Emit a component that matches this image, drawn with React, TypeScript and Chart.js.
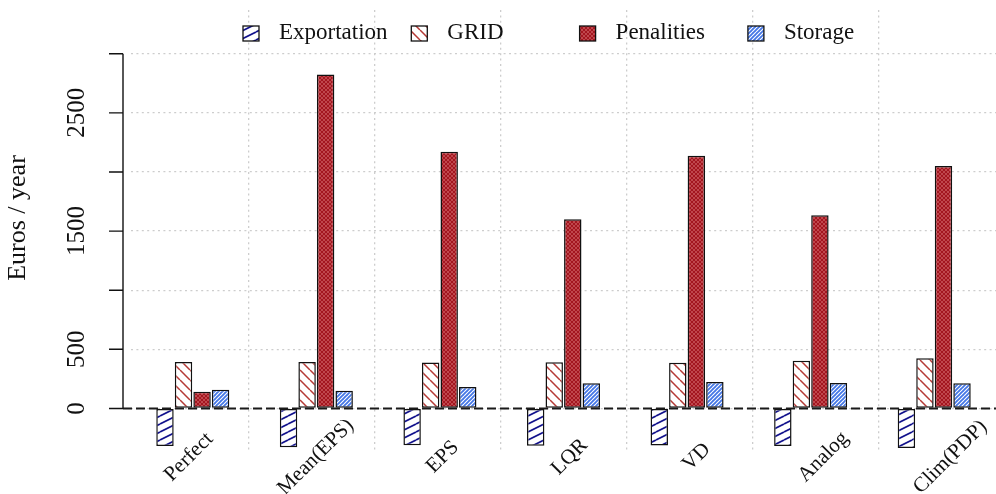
import React, { useEffect, useRef } from 'react';
import { Chart, registerables } from 'chart.js';

Chart.register(...registerables);

const categories = ['Perfect', 'Mean(EPS)', 'EPS', 'LQR', 'VD', 'Analog', 'Clim(PDP)'];
const seriesNames = ['Exportation', 'GRID', 'Penalities', 'Storage'];
const exportation = [-317, -328, -312, -315, -314, -317, -334];
const gridCost = [393, 393, 389, 391, 387, 404, 424];
const penalities = [142, 2825, 2172, 1600, 2137, 1634, 2051];
const storage = [159, 150, 182, 213, 224, 215, 212];
const yTicks = [0, 500, 1000, 1500, 2000, 2500, 3000];
const yTickLabels = ['0', '500', '', '1500', '', '2500', ''];
const yTitle = 'Euros / year';

const FAMILY = "'Liberation Serif', 'DejaVu Serif', serif";
const GRID_COLOR = '#cdcdcd';

export default function App() {
  const ref = useRef<HTMLCanvasElement>(null);

  useEffect(() => {
    const canvas = ref.current!;
    const ctx = canvas.getContext('2d')!;

    const pat = (w: number, h: number, draw: (g: CanvasRenderingContext2D) => void) => {
      const c = document.createElement('canvas');
      c.width = w;
      c.height = h;
      const g = c.getContext('2d')!;
      draw(g);
      return ctx.createPattern(c, 'repeat')!;
    };

    const expPat = pat(16, 8, (g) => {
      g.fillStyle = '#ffffff';
      g.fillRect(0, 0, 16, 8);
      g.strokeStyle = '#12128c';
      g.lineWidth = 1.7;
      g.beginPath();
      for (let k = -1; k <= 1; k++) {
        g.moveTo(0, 8 + 8 * k);
        g.lineTo(16, 8 * k);
      }
      g.stroke();
    });
    const gridPat = pat(10, 10, (g) => {
      g.fillStyle = '#ffffff';
      g.fillRect(0, 0, 10, 10);
      g.strokeStyle = '#b53a36';
      g.lineWidth = 1.5;
      g.beginPath();
      for (let k = -1; k <= 1; k++) {
        g.moveTo(0, 10 * k);
        g.lineTo(10, 10 + 10 * k);
      }
      g.stroke();
    });
    const penPat = pat(4, 4, (g) => {
      g.fillStyle = '#a3161f';
      g.fillRect(0, 0, 4, 4);
      g.strokeStyle = 'rgba(240,150,150,0.65)';
      g.lineWidth = 0.6;
      g.beginPath();
      g.moveTo(0, 0);
      g.lineTo(4, 4);
      g.moveTo(4, 0);
      g.lineTo(0, 4);
      g.stroke();
    });
    const stoPat = pat(4, 4, (g) => {
      g.fillStyle = '#4577e6';
      g.fillRect(0, 0, 4, 4);
      g.strokeStyle = '#ffffff';
      g.lineWidth = 1.1;
      g.beginPath();
      for (let k = -1; k <= 1; k++) {
        g.moveTo(0, 4 + 4 * k);
        g.lineTo(4, 4 * k);
      }
      g.stroke();
    });
    const fills = [expPat, gridPat, penPat, stoPat];

    const deco = {
      id: 'deco',
      afterDraw(chart: any) {
        const c = chart.ctx as CanvasRenderingContext2D;
        const ys = chart.scales.y;
        const x2 = chart.scales.x2;
        const area = chart.chartArea;
        const spineX = area.left - 8;
        const y0 = ys.getPixelForValue(0);

        // zero dashed line
        c.save();
        c.strokeStyle = '#1a1a1a';
        c.lineWidth = 2;
        c.setLineDash([9, 4]);
        c.beginPath();
        c.moveTo(spineX, y0);
        c.lineTo(area.right, y0);
        c.stroke();
        c.restore();

        // trimmed y spine with ticks
        c.save();
        c.strokeStyle = '#111';
        c.lineWidth = 1.4;
        c.beginPath();
        c.moveTo(spineX, ys.getPixelForValue(yTicks[0]));
        c.lineTo(spineX, ys.getPixelForValue(yTicks[yTicks.length - 1]));
        for (const v of yTicks) {
          const py = ys.getPixelForValue(v);
          c.moveTo(spineX - 14, py);
          c.lineTo(spineX, py);
        }
        c.stroke();
        c.restore();

        // y title
        c.save();
        c.fillStyle = '#111';
        c.font = `26px ${FAMILY}`;
        c.textAlign = 'center';
        c.textBaseline = 'middle';
        c.translate(18, 218);
        c.rotate(-Math.PI / 2);
        c.fillText(yTitle, 0, 0);
        c.restore();

        // x labels
        c.save();
        c.fillStyle = '#111';
        c.font = `21px ${FAMILY}`;
        c.textAlign = 'center';
        c.textBaseline = 'middle';
        categories.forEach((lab, i) => {
          const px = x2.getPixelForValue(i + 0.5) + 3 + i;
          c.save();
          c.translate(px, 457);
          c.rotate(-Math.PI / 4);
          c.fillText(lab, 0, 0);
          c.restore();
        });
        c.restore();

        // legend
        c.save();
        c.font = `23px ${FAMILY}`;
        c.textBaseline = 'middle';
        c.textAlign = 'left';
        chart.data.datasets.forEach((ds: any, i: number) => {
          const bx = 243 + 168.3 * i;
          c.fillStyle = ds.backgroundColor;
          c.fillRect(bx, 26, 16, 15);
          c.strokeStyle = '#111';
          c.lineWidth = 1.3;
          c.strokeRect(bx, 26, 16, 15);
          c.fillStyle = '#111';
          c.fillText(ds.label, bx + 36, 33);
        });
        c.restore();
      },
    };

    const seriesData = [exportation, gridCost, penalities, storage];
    const zeroPad = (s: any) => {
      s.paddingTop = 0;
      s.paddingBottom = 0;
      s.paddingLeft = 0;
      s.paddingRight = 0;
    };

    const chart = new Chart(canvas, {
      type: 'bar',
      data: {
        labels: categories,
        datasets: seriesNames.map((name, i) => ({
          label: name,
          data: seriesData[i],
          backgroundColor: fills[i],
          borderColor: '#111',
          borderWidth: 1.5,
          borderSkipped: false,
          categoryPercentage: 0.6,
          barPercentage: 0.94,
        })),
      },
      options: {
        responsive: false,
        animation: false,
        layout: { padding: { top: 10, bottom: 43, left: 0, right: 0 } },
        plugins: { legend: { display: false }, tooltip: { enabled: false } },
        scales: {
          x: {
            type: 'category',
            offset: true,
            grid: { display: false, drawTicks: false },
            border: { display: false },
            ticks: { display: false },
            afterFit: (s: any) => {
              s.height = 0;
              zeroPad(s);
            },
          },
          x2: {
            type: 'linear',
            position: 'top',
            offset: false,
            min: 0.0635,
            max: 6.934,
            afterBuildTicks: (s: any) => {
              s.ticks = [1, 2, 3, 4, 5, 6].map((v) => ({ value: v }));
            },
            grid: { color: GRID_COLOR, lineWidth: 1.3, drawTicks: false, offset: false },
            border: { display: false, dash: [2, 3.4] },
            ticks: { display: false },
            afterFit: (s: any) => {
              s.height = 0;
              zeroPad(s);
            },
            z: 1,
          },
          y: {
            type: 'linear',
            min: -360,
            max: 3370,
            afterBuildTicks: (s: any) => {
              s.ticks = yTicks.map((v) => ({ value: v }));
            },
            afterFit: (s: any) => {
              s.width = 131;
              zeroPad(s);
            },
            grid: { color: GRID_COLOR, lineWidth: 1.3, drawTicks: false },
            border: { display: false, dash: [2, 3.4] },
            ticks: {
              autoSkip: false,
              minRotation: 90,
              maxRotation: 90,
              crossAlign: 'center',
              padding: 29,
              color: '#111',
              font: { family: FAMILY, size: 25 },
              callback: (v: any) => {
                const idx = yTicks.indexOf(Number(v));
                return idx >= 0 ? yTickLabels[idx] : '';
              },
            },
            z: 1,
          },
        },
      } as any,
      plugins: [deco],
    });

    return () => chart.destroy();
  }, []);

  return (
    <canvas
      ref={ref}
      width={996}
      height={494}
      style={{ position: 'fixed', left: 0, top: 0, width: 996, height: 494, display: 'block' }}
    />
  );
}
